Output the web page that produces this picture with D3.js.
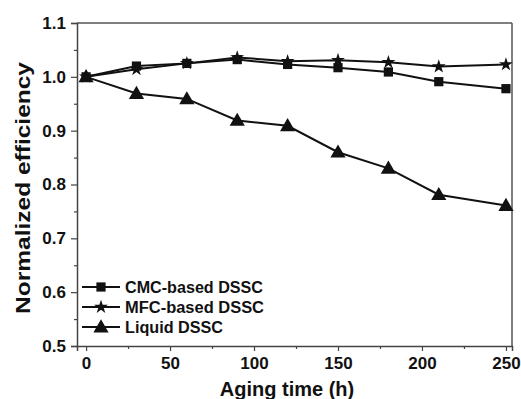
<!DOCTYPE html>
<html><head><meta charset="utf-8">
<script src="https://cdn.jsdelivr.net/npm/d3@7"></script>
<style>body{margin:0;background:#fff;} svg{display:block;font-family:Arial,"Liberation Sans",sans-serif;font-weight:bold;}</style>
</head><body>
<svg id="c" width="521" height="399"></svg>
<script>
const hours = [0, 30, 60, 90, 120, 150, 180, 210, 250];
const cmc = [1.0, 1.020, 1.025, 1.032, 1.023, 1.017, 1.009, 0.991, 0.978];
const mfc = [1.0, 1.014, 1.025, 1.036, 1.029, 1.031, 1.027, 1.019, 1.023];
const liquid = [1.0, 0.969, 0.959, 0.919, 0.909, 0.860, 0.830, 0.781, 0.761];
const seriesNames = ["CMC-based DSSC", "MFC-based DSSC", "Liquid DSSC"];
const xTicks = [0, 50, 100, 150, 200, 250];
const yTicks = [0.5, 0.6, 0.7, 0.8, 0.9, 1.0, 1.1];

const svg = d3.select("#c");
const L = 77, R = 512, T = 23, B = 346;
const x = d3.scaleLinear().domain([-5.4, 253.6]).range([L, R]);
const y = d3.scaleLinear().domain([0.5, 1.1]).range([B, T]);
const col = "#111";

// frame top/right
svg.append("line").attr("x1", L).attr("x2", R).attr("y1", T).attr("y2", T).attr("stroke", "#555").attr("stroke-width", 1.5);
svg.append("line").attr("x1", R).attr("x2", R).attr("y1", T).attr("y2", B).attr("stroke", "#555").attr("stroke-width", 1.5);

// x axis
svg.append("g").attr("transform", `translate(0,${B})`)
  .call(d3.axisBottom(x).tickValues(xTicks).tickSize(5).tickPadding(6).tickFormat(d3.format("d")));
svg.append("g").attr("transform", `translate(0,${B})`)
  .call(d3.axisBottom(x).tickValues([25, 75, 125, 175, 225]).tickSize(3).tickFormat(""))
  .select(".domain").remove();
// y axis
svg.append("g").attr("transform", `translate(${L},0)`)
  .call(d3.axisLeft(y).tickValues(yTicks).tickSize(6).tickPadding(5).tickFormat(d3.format(".1f")));
svg.append("g").attr("transform", `translate(${L},0)`)
  .call(d3.axisLeft(y).tickValues([0.55, 0.65, 0.75, 0.85, 0.95, 1.05]).tickSize(3).tickFormat(""))
  .select(".domain").remove();
svg.selectAll(".domain").attr("stroke", "#444").attr("stroke-width", 1.5);
svg.selectAll(".tick line").attr("stroke", "#444").attr("stroke-width", 1.2);
svg.selectAll(".tick text").attr("fill", col).style("font-size", "17px").style("font-weight", "bold").style("font-family", "Arial, 'Liberation Sans', sans-serif");

// axis titles
svg.append("text").attr("x", 287).attr("y", 396).attr("text-anchor", "middle")
  .style("font-size", "20px").attr("fill", col).text("Aging time (h)");
svg.append("text").attr("transform", "translate(30,188) rotate(-90)").attr("text-anchor", "middle")
  .style("font-size", "21px").attr("fill", col)
  .attr("textLength", 252).attr("lengthAdjust", "spacingAndGlyphs").text("Normalized efficiency");

const symbols = [d3.symbolSquare, d3.symbolStar, d3.symbolTriangle];
const sizes = [85, 60, 100];
const data = [cmc, mfc, liquid];
const line = d3.line().x((d, i) => x(hours[i])).y(d => y(d));

data.forEach((vals, k) => {
  svg.append("path").datum(vals).attr("d", line).attr("fill", "none").attr("stroke", col).attr("stroke-width", 2);
});
data.forEach((vals, k) => {
  svg.selectAll(null).data(vals).enter().append("path")
    .attr("d", d3.symbol().type(symbols[k]).size(sizes[k]))
    .attr("transform", (d, i) => `translate(${x(hours[i])},${y(d) + (k === 2 ? 1 : 0)})`)
    .attr("fill", col);
});

// legend
const ly = [287, 307, 327];
const lw = [138, 139, 98];
seriesNames.forEach((n, k) => {
  svg.append("line").attr("x1", 82).attr("x2", 120).attr("y1", ly[k]).attr("y2", ly[k]).attr("stroke", col).attr("stroke-width", 2);
  svg.append("path").attr("d", d3.symbol().type(symbols[k]).size(sizes[k])).attr("transform", `translate(101,${ly[k] + (k === 2 ? 1 : 0)})`).attr("fill", col);
  svg.append("text").attr("x", 125).attr("y", ly[k] + 6).style("font-size", "16px").attr("fill", col)
    .attr("textLength", lw[k]).attr("lengthAdjust", "spacingAndGlyphs").text(n);
});
</script>
</body></html>
